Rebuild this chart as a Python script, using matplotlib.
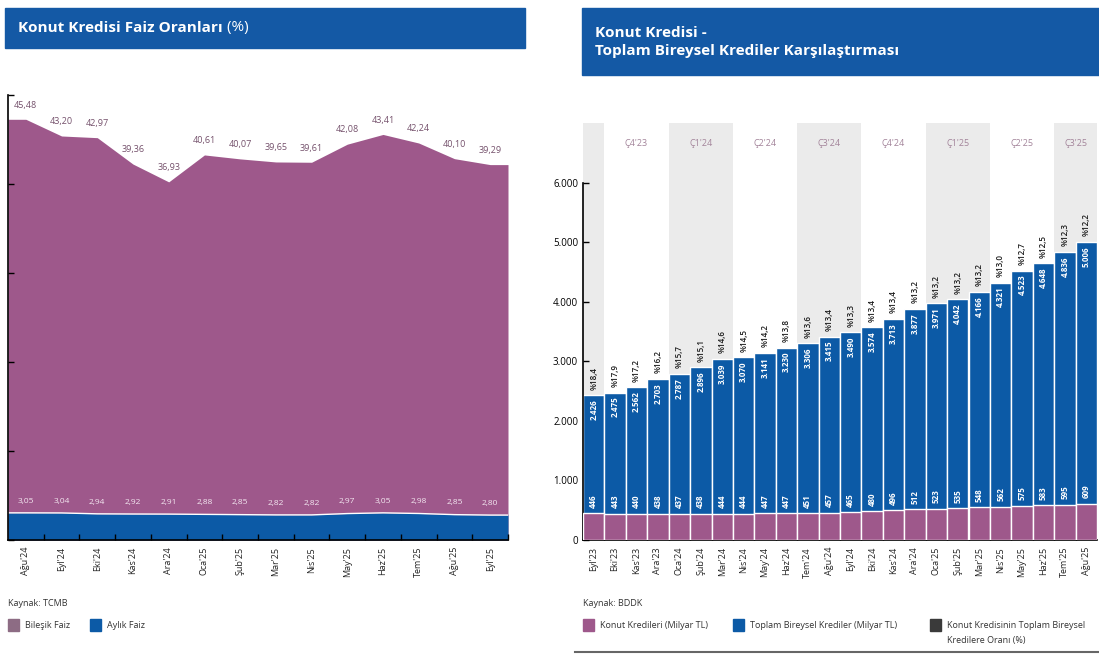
import matplotlib.pyplot as plt
import numpy as np
from matplotlib.patches import Rectangle
from matplotlib.text import Annotation

plt.rcParams['font.family'] = ['Open Sans', 'DejaVu Sans']

# --- sol grafik: faiz oranlari ---
faiz_aylar = ["Ağu'24", "Eyl'24", "Eki'24", "Kas'24", "Ara'24", "Oca'25", "Şub'25",
              "Mar'25", "Nis'25", "May'25", "Haz'25", "Tem'25", "Ağu'25", "Eyl'25"]
bilesik_faiz = [45.48, 43.20, 42.97, 39.36, 36.93, 40.61, 40.07, 39.65, 39.61, 42.08, 43.41, 42.24, 40.10, 39.29]
aylik_faiz = [3.05, 3.04, 2.94, 2.92, 2.91, 2.88, 2.85, 2.82, 2.82, 2.97, 3.05, 2.98, 2.85, 2.80]

# --- sag grafik: konut kredisi / toplam bireysel krediler ---
kredi_aylar = ["Eyl'23", "Eki'23", "Kas'23", "Ara'23", "Oca'24", "Şub'24", "Mar'24", "Nis'24",
               "May'24", "Haz'24", "Tem'24", "Ağu'24", "Eyl'24", "Eki'24", "Kas'24", "Ara'24",
               "Oca'25", "Şub'25", "Mar'25", "Nis'25", "May'25", "Haz'25", "Tem'25", "Ağu'25"]
konut_kredileri = [446, 443, 440, 438, 437, 438, 444, 444, 447, 447, 451, 457,
                   465, 480, 496, 512, 523, 535, 548, 562, 575, 583, 595, 609]
toplam_bireysel = [2426, 2475, 2562, 2703, 2787, 2896, 3039, 3070, 3141, 3230, 3306, 3415,
                   3490, 3574, 3713, 3877, 3971, 4042, 4166, 4321, 4523, 4648, 4836, 5006]
konut_orani = [18.4, 17.9, 17.2, 16.2, 15.7, 15.1, 14.6, 14.5, 14.2, 13.8, 13.6, 13.4,
               13.3, 13.4, 13.4, 13.2, 13.2, 13.2, 13.2, 13.0, 12.7, 12.5, 12.3, 12.2]
ceyrekler = ["Ç3'23", "Ç4'23", "Ç1'24", "Ç2'24", "Ç3'24", "Ç4'24", "Ç1'25", "Ç2'25", "Ç3'25"]
ceyrek_ay_sayisi = [1, 3, 3, 3, 3, 3, 3, 3, 2]

MAUVE = '#9e588b'
BLUE = '#0c5aa6'
TITLE_BLUE = '#1459a5'
W, H = 1099, 655


def fx(x):
    return x / W


def fy(y):
    return 1 - y / H


def tr(v, nd=2):
    return f"{v:.{nd}f}".replace('.', ',')


def binlik(v):
    return f"{int(v):,}".replace(',', '.')


fig = plt.figure(figsize=(W / 100, H / 100), dpi=100)

# baslik kutulari
fig.patches.append(Rectangle((fx(5), fy(48)), fx(520), 40 / H, transform=fig.transFigure,
                             color=TITLE_BLUE, zorder=0))
t1 = fig.text(fx(18), fy(28), "Konut Kredisi Faiz Oranları", color='white', fontsize=11,
              fontweight='bold', va='center')
fig.add_artist(Annotation(" (%)", xy=(1, 0.5), xycoords=t1, ha='left', va='center',
                          color='white', fontsize=11))
fig.patches.append(Rectangle((fx(582), fy(75)), fx(517), 67 / H, transform=fig.transFigure,
                             color=TITLE_BLUE, zorder=0))
fig.text(fx(595), fy(42), "Konut Kredisi -\nToplam Bireysel Krediler Karşılaştırması", color='white',
         fontsize=11, fontweight='bold', va='center', linespacing=1.3)

# ---------- sol grafik ----------
ax = fig.add_axes([fx(8), fy(540), 500 / W, 445 / H])
ax_p = ax.twinx()
ax.set_zorder(ax_p.get_zorder() + 1)
ax.patch.set_visible(False)

x = np.arange(len(faiz_aylar))
xe = np.r_[-0.5, x, len(x) - 0.5]
bil_e = np.r_[bilesik_faiz[0], bilesik_faiz, bilesik_faiz[-1]]
ayl_e = np.r_[aylik_faiz[0], aylik_faiz, aylik_faiz[-1]]

ax_p.fill_between(xe, -12, bil_e, color=MAUVE, lw=0)
ax_p.set_ylim(-12, 48.8)
ax_p.set_yticks([])
for s in ax_p.spines.values():
    s.set_visible(False)
for i, v in enumerate(bilesik_faiz):
    ax_p.annotate(tr(v), (i, v), xytext=(0, 7), textcoords='offset points', ha='center',
                  va='bottom', fontsize=6.5, color='#74506b')

ax.fill_between(xe, 0, ayl_e, color=BLUE, lw=0)
ax.plot(xe, ayl_e, color='white', lw=1)
for i, v in enumerate(aylik_faiz):
    ax.annotate(tr(v), (i, v), xytext=(0, 6), textcoords='offset points', ha='center',
                va='bottom', fontsize=6, color='#f3e6f0')
ax.set_xlim(-0.5, len(x) - 0.5)
ax.set_ylim(0, 50)
ax.set_yticks(np.arange(0, 51, 10))
ax.set_yticklabels([])
ax.set_xticks(x + 0.5)
ax.set_xticklabels([])
ax.set_xticks(x, minor=True)
ax.set_xticklabels(faiz_aylar, minor=True, rotation=90, fontsize=6.5, color='#222222')
ax.tick_params(axis='both', which='major', direction='in', length=4, width=1)
ax.tick_params(axis='x', which='minor', length=0, pad=5)
ax.spines['top'].set_visible(False)
ax.spines['right'].set_visible(False)

# ---------- sag grafik ----------
axr = fig.add_axes([fx(583), fy(540), 514 / W, 417 / H])
xr = np.arange(len(kredi_aylar))
bas = 0
for k, (q, n) in enumerate(zip(ceyrekler, ceyrek_ay_sayisi)):
    if k % 2 == 0:
        axr.axvspan(bas - 0.5, bas + n - 0.5, color='#ebebeb', lw=0, zorder=0)
    if k > 0:
        axr.text(bas + (n - 1) / 2, 6660, q, ha='center', va='center', fontsize=6.5, color='#a3849a')
    bas += n

axr.bar(xr, toplam_bireysel, width=1, color=BLUE, edgecolor='white', lw=1, zorder=2)
axr.bar(xr, konut_kredileri, width=1, color=MAUVE, edgecolor='white', lw=1, zorder=3)
for i in xr:
    axr.annotate(binlik(toplam_bireysel[i]), (i, toplam_bireysel[i]), xytext=(0, -3),
                 textcoords='offset points', ha='center', va='top', rotation=90,
                 fontsize=5.8, color='white', fontweight='bold', zorder=4)
    axr.annotate('%' + tr(konut_orani[i], 1), (i, toplam_bireysel[i]), xytext=(0, 4),
                 textcoords='offset points', ha='center', va='bottom', rotation=90,
                 fontsize=5.8, color='#1a1a1a', fontweight='semibold', zorder=4)
    axr.annotate(str(konut_kredileri[i]), (i, konut_kredileri[i]), xytext=(0, 4),
                 textcoords='offset points', ha='center', va='bottom', rotation=90,
                 fontsize=5.8, color='white', fontweight='bold', zorder=4)

axr.set_xlim(-0.5, len(xr) - 0.5)
axr.set_ylim(0, 7000)
yt = np.arange(0, 6001, 1000)
axr.set_yticks(yt)
axr.set_yticklabels([binlik(v) for v in yt], fontsize=7)
axr.set_xticks(xr[:-1] + 0.5)
axr.set_xticklabels([])
axr.set_xticks(xr, minor=True)
axr.set_xticklabels(kredi_aylar, minor=True, rotation=90, fontsize=6.5, color='#222222')
axr.tick_params(axis='both', which='major', direction='in', length=4, width=1)
axr.tick_params(axis='x', which='minor', length=0, pad=5)
axr.spines['left'].set_bounds(0, 6000)
axr.spines['top'].set_visible(False)
axr.spines['right'].set_visible(False)
for a in (ax, axr):
    a.spines['left'].set_linewidth(1.2)
    a.spines['bottom'].set_linewidth(1.2)

# ---------- kaynak ve lejantlar ----------
fig.text(fx(8), fy(603), "Kaynak: TCMB", fontsize=6.5, va='center', color='#333333')
fig.text(fx(583), fy(603), "Kaynak: BDDK", fontsize=6.5, va='center', color='#333333')


def lejant(xp, renk, etiket, yp=625):
    fig.patches.append(Rectangle((fx(xp), fy(yp + 6)), 11 / W, 12 / H, transform=fig.transFigure,
                                 color=renk))
    fig.text(fx(xp + 17), fy(yp), etiket, fontsize=6.5, va='center', color='#333333')


lejant(8, '#8d6c84', "Bileşik Faiz")
lejant(90, BLUE, "Aylık Faiz")
lejant(583, MAUVE, "Konut Kredileri (Milyar TL)")
lejant(733, BLUE, "Toplam Bireysel Krediler (Milyar TL)")
lejant(930, '#3a3a3a', "Konut Kredisinin Toplam Bireysel")
fig.text(fx(947), fy(640), "Kredilere Oranı (%)", fontsize=6.5, va='center', color='#333333')

fig.add_artist(plt.Line2D([fx(575), 1], [fy(652), fy(652)], transform=fig.transFigure,
                          color='#666666', lw=1.5))

fig.savefig('out.png', dpi=100)
